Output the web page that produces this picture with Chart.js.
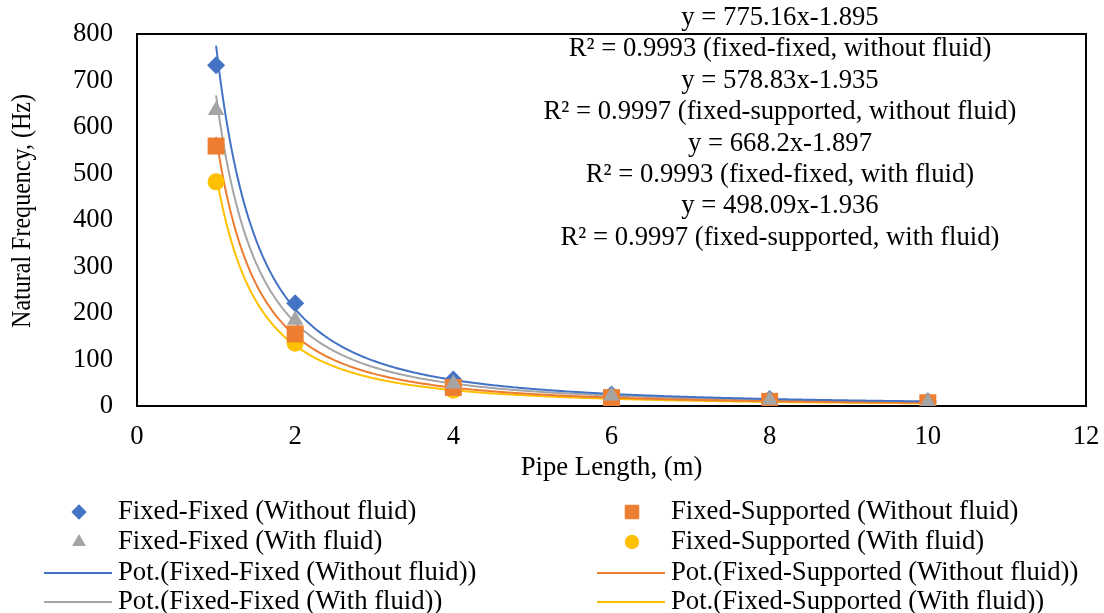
<!DOCTYPE html>
<html>
<head>
<meta charset="utf-8">
<script src="https://cdn.jsdelivr.net/npm/chart.js@4.4.1/dist/chart.umd.min.js"></script>
<style>
html,body{margin:0;padding:0;background:#fff;}
#wrap{width:1104px;height:613px;position:relative;}
</style>
</head>
<body>
<div id="wrap"><canvas id="c" width="1104" height="613"></canvas></div>
<script>
// ---- data ----
const pipeLength = [1, 2, 4, 6, 8, 10];
const ffWithout = [733, 221, 57, 25, 15, 10];
const fsWithout = [559, 155, 40, 18, 10, 7];
const ffWith    = [636, 185, 48, 22, 13, 8.5];
const fsWith    = [482, 135, 34, 15.5, 9, 6];
const seriesNames = ['Fixed-Fixed (Without fluid)', 'Fixed-Supported (Without fluid)', 'Fixed-Fixed (With fluid)', 'Fixed-Supported (With fluid)'];
const trendNames = ['Pot.(Fixed-Fixed (Without fluid))', 'Pot.(Fixed-Supported (Without fluid))', 'Pot.(Fixed-Fixed (With fluid))', 'Pot.(Fixed-Supported (With fluid))'];
// power trendline coefficients y = a * x^b (from the chart's equations)
const trendA = [775.16, 578.83, 668.2, 498.09];
const trendB = [-1.895, -1.935, -1.897, -1.936];
const annotationLines = [
  'y = 775.16x-1.895', 'R² = 0.9993 (fixed-fixed, without fluid)',
  'y = 578.83x-1.935', 'R² = 0.9997 (fixed-supported, without fluid)',
  'y = 668.2x-1.897', 'R² = 0.9993 (fixed-fixed, with fluid)',
  'y = 498.09x-1.936', 'R² = 0.9997 (fixed-supported, with fluid)'
];
const xTicks = [0, 2, 4, 6, 8, 10, 12];
const yTicks = [0, 100, 200, 300, 400, 500, 600, 700, 800];
const xTitle = 'Pipe Length, (m)';
const yTitle = 'Natural Frequency, (Hz)';

const colors = ['#4472C4', '#ED7D31', '#A5A5A5', '#FFC000'];
const styles = ['rectRot', 'rect', 'triangle', 'circle'];
const radii = [9, 12, 9.5, 8.5];
const zOrder = [3, 2, 1, 4];
const FONT = "'Liberation Serif', 'Times New Roman', serif";
const FS = 26.7;

function trendPoints(i) {
  const pts = [];
  const x0 = pipeLength[0], x1 = pipeLength[pipeLength.length - 1];
  for (let k = 0; k <= 360; k++) {
    const x = x0 + (x1 - x0) * k / 360;
    pts.push({x: x, y: trendA[i] * Math.pow(x, trendB[i])});
  }
  return pts;
}

const allSeries = [ffWithout, fsWithout, ffWith, fsWith];
const datasets = [];
allSeries.forEach((s, i) => {
  datasets.push({
    label: seriesNames[i],
    data: s.map((v, j) => ({x: pipeLength[j], y: v})),
    showLine: false,
    pointStyle: styles[i],
    pointRadius: radii[i],
    pointHoverRadius: radii[i],
    backgroundColor: colors[i],
    borderColor: colors[i],
    pointBorderWidth: 0,
    order: zOrder[i]
  });
});
allSeries.forEach((s, i) => {
  datasets.push({
    label: trendNames[i],
    data: trendPoints(i),
    showLine: true,
    pointRadius: 0,
    borderColor: colors[i],
    borderWidth: 2,
    fill: false,
    tension: 0,
    order: 10 + i
  });
});

const framePlugin = {
  id: 'frame',
  beforeDatasetsDraw(chart) {
    const {ctx, chartArea: a} = chart;
    ctx.save();
    ctx.strokeStyle = '#000';
    ctx.lineWidth = 2;
    ctx.strokeRect(a.left, a.top, a.right - a.left, a.bottom - a.top);
    ctx.restore();
  },
  afterDraw(chart) {
    const ctx = chart.ctx;
    ctx.save();
    ctx.fillStyle = '#000';
    ctx.font = FS + 'px ' + FONT;
    ctx.textAlign = 'center';
    ctx.textBaseline = 'middle';
    annotationLines.forEach((t, i) => {
      ctx.fillText(t, 780, 18 + i * 31.4);
    });
    // y axis title (rotated)
    ctx.save();
    ctx.translate(23, 211);
    ctx.rotate(-Math.PI / 2);
    ctx.scale(0.9, 1);
    ctx.fillText(yTitle, 0, 0);
    ctx.restore();
    // legend
    const rows = [512, 542, 573, 602];
    const cols = [{marker: 79, line0: 44, line1: 112, text: 118}, {marker: 632, line0: 597, line1: 665, text: 671}];
    const items = [];
    for (let i = 0; i < 4; i++) items.push({type: 'pt', i: i, label: seriesNames[i]});
    for (let i = 0; i < 4; i++) items.push({type: 'ln', i: i, label: trendNames[i]});
    items.forEach((it, k) => {
      const r = rows[Math.floor(k / 2)];
      const c = cols[k % 2];
      ctx.fillStyle = colors[it.i];
      ctx.strokeStyle = colors[it.i];
      if (it.type === 'pt') {
        Chart.helpers.drawPoint(ctx, {pointStyle: styles[it.i], radius: radii[it.i] * 0.85, borderWidth: 0, rotation: 0}, c.marker, r);
      } else {
        ctx.lineWidth = 2;
        ctx.beginPath();
        ctx.moveTo(c.line0, r);
        ctx.lineTo(c.line1, r);
        ctx.stroke();
      }
      ctx.fillStyle = '#000';
      ctx.textAlign = 'left';
      ctx.fillText(it.label, c.text, r);
    });
    ctx.restore();
  }
};

new Chart(document.getElementById('c'), {
  type: 'scatter',
  data: {datasets: datasets},
  options: {
    responsive: false,
    animation: false,
    events: [],
    layout: {padding: {top: 34, right: 18, bottom: 125, left: 0}},
    plugins: {legend: {display: false}, tooltip: {enabled: false}},
    scales: {
      x: {
        type: 'linear', min: 0, max: 12,
        afterBuildTicks: (s) => { s.ticks = xTicks.map(v => ({value: v})); },
        afterFit: (s) => { s.height = 82; s.paddingLeft = 0; s.paddingRight = 0; },
        grid: {display: false, drawTicks: false},
        border: {display: false},
        ticks: {color: '#000', font: {family: FONT, size: FS}, padding: 15, maxRotation: 0},
        title: {display: true, text: xTitle, color: '#000', font: {family: FONT, size: FS}, padding: {top: 4, bottom: 4}}
      },
      y: {
        type: 'linear', min: 0, max: 800,
        afterBuildTicks: (s) => { s.ticks = yTicks.map(v => ({value: v})); },
        afterFit: (s) => { s.width = 137; s.paddingTop = 0; s.paddingBottom = 0; },
        grid: {display: false, drawTicks: false},
        border: {display: false},
        ticks: {color: '#000', font: {family: FONT, size: FS}, padding: 24},
        title: {display: false}
      }
    }
  },
  plugins: [framePlugin]
});
</script>
</body>
</html>
